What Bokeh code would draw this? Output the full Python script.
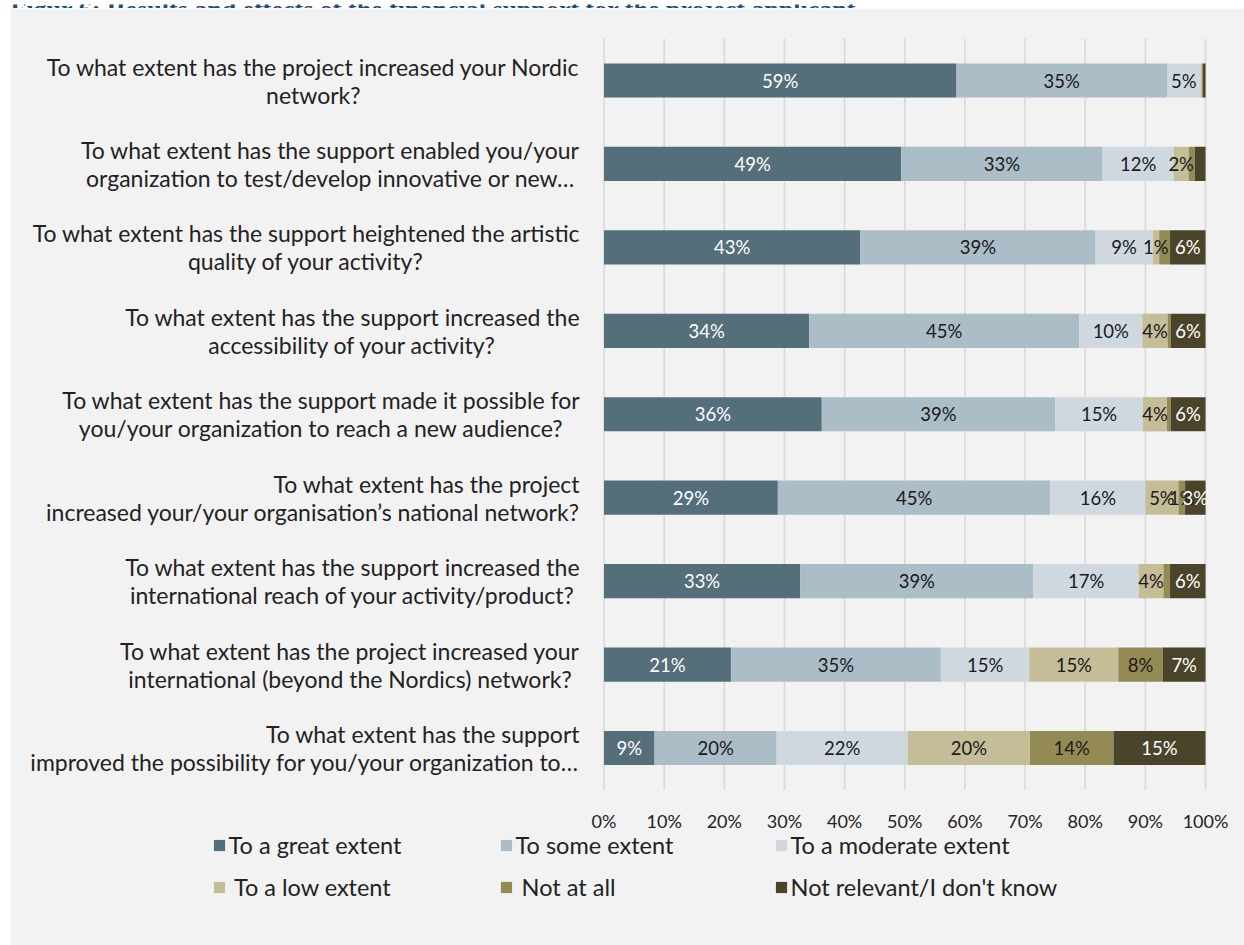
from bokeh.plotting import figure
from bokeh.models import (ColumnDataSource, Range1d, FixedTicker, Label,
                          Legend, LegendItem, Spacer)
from bokeh.layouts import column, row
from bokeh.core.properties import value
from bokeh.embed import file_html
from bokeh.resources import INLINE

# ---------------- data ----------------
title_text = "Figur 6: Results and effects of the financial support for the project applicant"

categories = [
    "To what extent has the project increased your Nordic\nnetwork?",
    "To what extent has the support enabled you/your\norganization to test/develop innovative or new\u2026",
    "To what extent has the support heightened the artistic\nquality of your activity?",
    "To what extent has the support increased the\naccessibility of your activity?",
    "To what extent has the support made it possible for\nyou/your organization to reach a new audience?",
    "To what extent has the project\nincreased your/your organisation\u2019s national network?",
    "To what extent has the support increased the\ninternational reach of your activity/product?",
    "To what extent has the project increased your\ninternational (beyond the Nordics) network?",
    "To what extent has the support\nimproved the possibility for you/your organization to\u2026",
]

series_names = ["To a great extent", "To some extent", "To a moderate extent",
                " To a low extent", " Not at all", "Not relevant/I don't know"]

great    = [58.6, 49.4, 42.6, 34.1, 36.2, 28.9, 32.6, 21.1, 8.4]
some     = [35.0, 33.5, 39.1, 44.9, 38.8, 45.3, 38.8, 34.9, 20.3]
moderate = [5.6, 11.8, 9.5, 10.5, 14.6, 15.8, 17.5, 14.7, 21.8]
low      = [0.3, 2.5, 1.1, 4.2, 4.0, 5.5, 4.1, 14.8, 20.3]
not_all  = [0.0, 1.0, 1.8, 0.5, 0.6, 1.1, 1.1, 7.4, 13.9]
not_rel  = [0.5, 1.8, 5.9, 5.8, 5.8, 3.4, 5.9, 7.1, 15.3]

great_lbl    = ["59%", "49%", "43%", "34%", "36%", "29%", "33%", "21%", "9%"]
some_lbl     = ["35%", "33%", "39%", "45%", "39%", "45%", "39%", "35%", "20%"]
moderate_lbl = ["5%", "12%", "9%", "10%", "15%", "16%", "17%", "15%", "22%"]
low_lbl      = ["", "2%", "1%", "4%", "4%", "5%", "4%", "15%", "20%"]
not_all_lbl  = ["", "", "", "", "", "1%", "", "8%", "14%"]
not_rel_lbl  = ["", "", "6%", "6%", "6%", "3%", "6%", "7%", "15%"]

tick_values = [0, 10, 20, 30, 40, 50, 60, 70, 80, 90, 100]
tick_labels = ["0%", "10%", "20%", "30%", "40%", "50%", "60%", "70%", "80%", "90%", "100%"]

# ---------------- styling ----------------
colors = ["#546E7A", "#ABBDC7", "#CFD8DF", "#C4BD97", "#948A54", "#4A452A"]
label_colors = ["#FFFFFF", "#1A1A1A", "#1A1A1A", "#1A1A1A", "#1A1A1A", "#FFFFFF"]
cat_align = ["center", "center", "center", "center", "center", "right", "center",
             "center", "right"]
FONT = "Lato"
PANEL = "#F2F2F2"
TEXT = "#222222"
GRID = "#D9D9D9"

keys = ["great", "some", "moderate", "low", "not_all", "not_rel"]
vals = [great, some, moderate, low, not_all, not_rel]
lbls = [great_lbl, some_lbl, moderate_lbl, low_lbl, not_all_lbl, not_rel_lbl]

n = len(categories)
ypos = [n - 1 - i for i in range(n)]          # first category on top

data = {"cat": categories, "y": ypos}
for k, v in zip(keys, vals):
    data[k] = v
source = ColumnDataSource(data)

# frame covers the whole grey panel; bars occupy 0..100 of the x scale
p = figure(width=1234, height=937, output_backend="svg", toolbar_location=None,
           x_range=Range1d(-98.67, 106.48), y_range=Range1d(-2.367, 8.863),
           min_border=0)
p.background_fill_color = PANEL
p.border_fill_color = PANEL
p.outline_line_color = None
p.grid.visible = False

# vertical gridlines over the category band
p.segment(x0=tick_values, x1=tick_values, y0=[-0.5] * len(tick_values),
          y1=[n - 0.5] * len(tick_values), line_color=GRID, line_width=1.6)

renderers = p.hbar_stack(keys, y="y", height=0.41, color=colors, source=source,
                         line_color=None)

# data labels
lx, ly, lt, lc = [], [], [], []
for i in range(n):
    left = 0.0
    for s in range(len(keys)):
        v = vals[s][i]
        if lbls[s][i]:
            lx.append(left + v / 2.0)
            ly.append(ypos[i])
            lt.append(lbls[s][i])
            lc.append(label_colors[s])
        left += v
lsrc = ColumnDataSource(dict(x=lx, y=ly, t=lt, c=lc))
p.text(x="x", y="y", text="t", text_color="c", source=lsrc, text_align="center",
       text_baseline="middle", text_font=value(FONT), text_font_size="18.5px")

# x axis drawn just under the category band
p.yaxis.visible = False
p.xaxis.fixed_location = -0.5
p.xaxis.ticker = FixedTicker(ticks=tick_values)
p.xaxis.major_label_overrides = {t: l for t, l in zip(tick_values, tick_labels)}
p.xaxis.axis_line_color = None
p.xaxis.major_tick_line_color = None
p.xaxis.minor_tick_line_color = None
p.xaxis.major_label_standoff = 14
p.xaxis.major_label_text_font = FONT
p.xaxis.major_label_text_font_size = "18px"
p.xaxis.major_label_text_color = TEXT

# category labels (multi-line, block right-aligned)
for i, cat in enumerate(categories):
    p.add_layout(Label(x=0, y=ypos[i], x_offset=-24, text=cat,
                       anchor="center_right", text_align=cat_align[i],
                       text_baseline="middle", text_font=FONT,
                       text_font_size="23px", text_color=TEXT,
                       text_line_height=1.0))

# legend: three columns of two entries
col_x = [201.6, 488.6, 763.6]
for c in range(3):
    items = [LegendItem(label=series_names[c], renderers=[renderers[c]]),
             LegendItem(label=series_names[c + 3], renderers=[renderers[c + 3]])]
    leg = Legend(items=items, location=(col_x[c], 44), orientation="vertical",
                 glyph_width=14, glyph_height=14, label_standoff=3, spacing=14,
                 label_height=28, padding=0, margin=0, background_fill_alpha=0,
                 border_line_color=None, label_text_font=FONT,
                 label_text_font_size="23.5px", label_text_color=TEXT)
    p.add_layout(leg, "center")

# title strip (cut at the top as in the reference)
t = figure(width=1244, height=8, output_backend="svg", toolbar_location=None,
           x_range=Range1d(0, 1244), y_range=Range1d(0, 8), min_border=0)
t.axis.visible = False
t.grid.visible = False
t.outline_line_color = None
t.background_fill_color = "white"
t.border_fill_color = "white"
t.add_layout(Label(x=10, y=3, text=title_text, text_baseline="alphabetic",
                   text_font="Liberation Serif", text_font_style="bold",
                   text_font_size="26px", text_color="#1F4E79"))

layout = column(t, row(Spacer(width=10, height=937), p))
open("out.html", "w").write(file_html(layout, INLINE))
